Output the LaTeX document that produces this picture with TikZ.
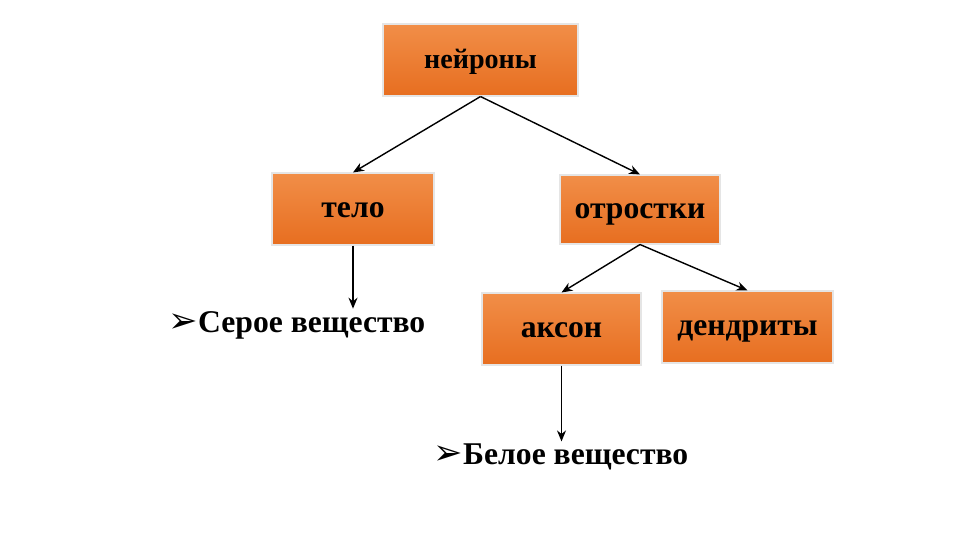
\documentclass[tikz,border=0pt]{standalone}
\usepackage{fontspec}
\setmainfont{Liberation Serif}
\newfontfamily\symfont{DejaVu Sans}
\usepackage{tikz}
\usetikzlibrary{arrows.meta}
\usepackage{xcolor}

\definecolor{boxtop}{RGB}{241,142,72}
\definecolor{boxbot}{RGB}{231,110,32}

\begin{document}
\begin{tikzpicture}[every node/.style={font=\fontsize{18}{20}\selectfont\bfseries}, >={Stealth[length=2.2mm,width=1.8mm]}, line width=0.8pt]
\tikzset{box/.style={draw=white!80!gray, line width=0.6pt, top color=boxtop, bottom color=boxbot, minimum height=1.44cm, text height=2.2ex, text depth=0pt}}
\useasboundingbox (0,0) rectangle (19.2,10.8);

\node[box, minimum width=3.9cm, font=\fontsize{16}{18}\selectfont\bfseries] (neurons) at (9.61,9.6) {нейроны};
\node[box, minimum width=3.24cm] (body) at (7.06,6.62) {тело};
\node[box, minimum width=3.2cm, minimum height=1.38cm] (processes) at (12.8,6.61) {отростки};
\node[box, minimum width=3.18cm] (axon) at (11.23,4.22) {аксон};
\node[box, minimum width=3.42cm] (dendrites) at (14.95,4.26) {дендриты};
\node[inner sep=1pt] (grey) at (5.94,4.3) {{\symfont\fontsize{20}{20}\selectfont ➢}Серое вещество};
\node[inner sep=1pt] (white) at (11.22,1.66) {{\symfont\fontsize{20}{20}\selectfont ➢}Белое вещество};

\draw[->] (neurons.south) -- (body.north);
\draw[->] (neurons.south) -- (processes.north);
\draw[->] (body) -- (body |- grey.north);
\draw[->] (processes.south) -- (axon.north);
\draw[->] (processes.south) -- (dendrites.north);
\draw[->] (axon) -- (axon |- white.north);
\end{tikzpicture}
\end{document}
